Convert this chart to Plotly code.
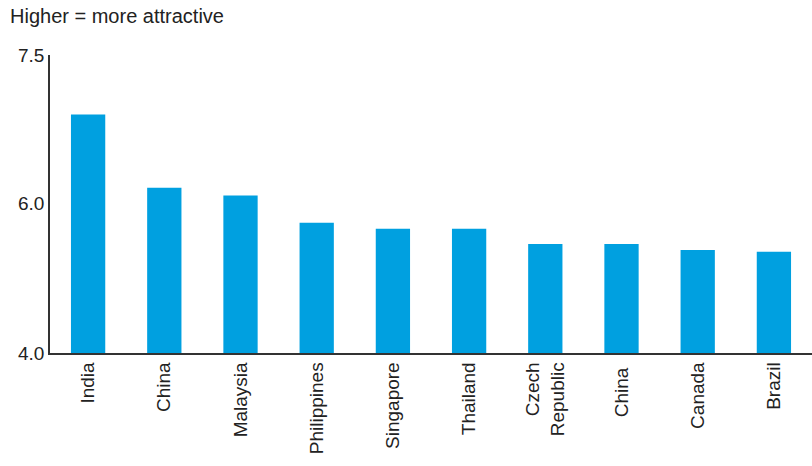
import plotly.graph_objects as go

countries = ["India", "China", "Malaysia", "Philippines", "Singapore",
             "Thailand", "Czech<br>Republic", "China ", "Canada", "Brazil"]
scores = [6.80, 5.94, 5.85, 5.53, 5.46, 5.46, 5.28, 5.28, 5.21, 5.19]
tick_vals = [4.0, 5.76, 7.5]
tick_text = ["4.0", "6.0", "7.5"]

fig = go.Figure(go.Bar(x=countries, y=scores, marker=dict(color="#00A0E0", line=dict(width=0))))
fig.update_layout(
    width=812, height=466,
    margin=dict(l=50, r=0, t=55, b=113),
    plot_bgcolor="white", paper_bgcolor="white",
    bargap=0.55,
    showlegend=False,
    font=dict(family="Liberation Sans, Arial, sans-serif", size=19, color="#222222"),
    annotations=[dict(text="Higher = more attractive", x=0, y=1, xref="paper", yref="paper",
                      xanchor="left", yanchor="top", xshift=-42, yshift=52,
                      showarrow=False, font=dict(size=20, color="#222222"))],
)
fig.update_xaxes(tickangle=-90, showline=True, linecolor="#333333", linewidth=1.5,
                 ticks="", showgrid=False, tickfont=dict(size=19))
fig.update_yaxes(range=[4.0, 7.5], tickvals=tick_vals, ticktext=tick_text,
                 showline=True, linecolor="#333333", linewidth=1.5, ticks="",
                 showgrid=False, zeroline=False, tickfont=dict(size=19))
fig.write_html("out.html")
